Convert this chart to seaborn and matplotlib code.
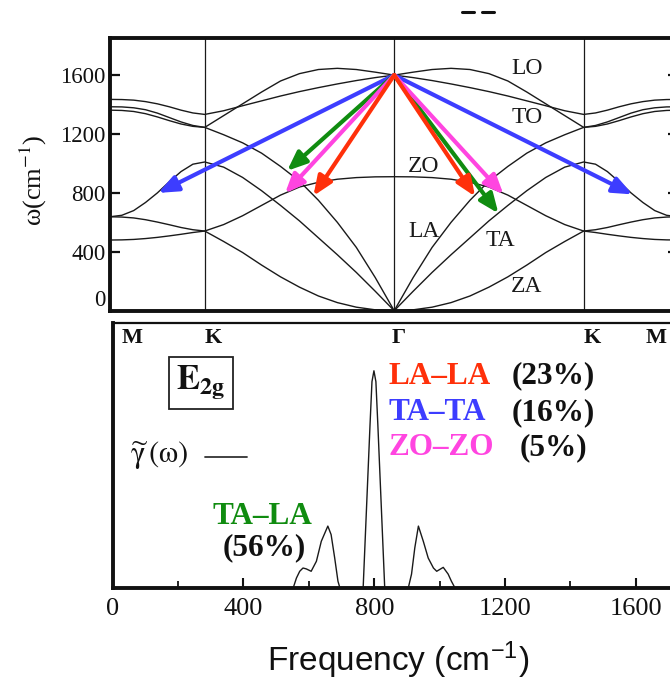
import numpy as np
import pandas as pd
import matplotlib
matplotlib.use("Agg")
import matplotlib.pyplot as plt
import seaborn as sns
from matplotlib.lines import Line2D

# ---------------- phonon dispersion of graphene ----------------
# path coordinate: M(0) - K(1) - Gamma(3) - K(5) - M(6)
k_points = [0, 1, 3, 5, 6]
k_names = ["M", "K", "Γ", "K", "M"]

# wave-vector samples along M -> K -> Gamma (the other half is its mirror image)
k_half = [0, 0.125, 0.25, 0.375, 0.5, 0.625, 0.75, 0.875, 1.0,
          1.2, 1.4, 1.6, 1.8, 2.0, 2.2, 2.4, 2.6, 2.8, 3.0]

w_TO = [1435, 1434, 1430, 1420, 1405, 1385, 1362, 1343, 1333,
        1358, 1392, 1425, 1458, 1488, 1515, 1540, 1563, 1583, 1600]
w_LO = [1385, 1384, 1378, 1365, 1342, 1312, 1282, 1258, 1245,
        1325, 1405, 1485, 1560, 1610, 1638, 1646, 1638, 1620, 1600]
w_LA = [1362, 1360, 1353, 1338, 1316, 1291, 1268, 1252, 1245,
        1195, 1140, 1070, 980, 880, 750, 600, 430, 225, 0]
w_TA = [638, 648, 680, 735, 800, 875, 945, 995, 1010,
        975, 905, 815, 715, 610, 495, 380, 260, 132, 0]
w_ZA = [638, 636, 630, 618, 602, 584, 565, 550, 541,
        470, 395, 310, 230, 160, 100, 55, 24, 6, 0]
w_ZO = [480, 481, 484, 490, 498, 508, 519, 531, 541,
        585, 645, 715, 785, 840, 872, 893, 904, 909, 910]

branch_names = ["TO", "LO", "LA", "TA", "ZA", "ZO"]
branch_values = [w_TO, w_LO, w_LA, w_TA, w_ZA, w_ZO]

# branch labels and their (k, omega) positions
label_names = ["LO", "TO", "ZO", "LA", "TA", "ZA"]
label_k = [4.40, 4.40, 3.31, 3.31, 4.12, 4.40]
label_w = [1648, 1315, 976, 541, 480, 161]

# decay channels of the E2g phonon at Gamma: end points (k, omega) of the arrows
gamma_mode = (3.0, 1600)
channels = ["TA-TA", "TA-LA", "ZO-ZO", "LA-LA"]
channel_colors = ["#3d3dff", "#108c10", "#ff45e0", "#ff300a"]
channel_k = [[0.51, 5.515], [1.87, 4.10], [1.848, 4.153], [2.147, 3.854]]
channel_w = [[800, 790], [950, 661], [797, 790], [780, 776]]

# ---------------- decay spectrum of the E2g mode ----------------
freq = [0, 552, 562, 572, 582, 592, 607, 623, 638, 658, 668, 679, 689, 695,
        766, 773, 780, 787, 793, 799, 805, 811, 818, 825, 832,
        904, 914, 924, 935, 950, 965, 981, 991, 1011, 1026, 1036, 1047, 1730]
gamma_w = [0, 0, 0.046, 0.077, 0.092, 0.088, 0.077, 0.123, 0.215, 0.285, 0.246, 0.138, 0.031, 0,
           0, 0.25, 0.5, 0.75, 0.95, 1.0, 0.95, 0.75, 0.5, 0.25, 0,
           0, 0.064, 0.185, 0.285, 0.215, 0.138, 0.092, 0.077, 0.095, 0.064, 0.031, 0, 0]

freq_ticks = [0, 400, 800, 1200, 1600]
freq_minor = [200, 600, 1000, 1400]
omega_ticks = [0, 400, 800, 1200, 1600]

# ---------------- figure ----------------
sns.set_theme(style="white")
plt.rcParams["font.family"] = ["Liberation Serif", "DejaVu Serif"]
plt.rcParams["mathtext.fontset"] = "stix"

W, H = 670, 682
fig = plt.figure(figsize=(W / 100, H / 100), dpi=100)


def frame(l, t, r, b):
    return [l / W, 1 - b / H, (r - l) / W, (b - t) / H]


ax1 = fig.add_axes(frame(110, 38, 678.4, 311))
ax2 = fig.add_axes(frame(112.7, 323, 678, 588))

# dispersion curves
kh = np.array(k_half)
k_full = np.concatenate([kh, 6 - kh[-2::-1]])
rows = []
for name, w in zip(branch_names, branch_values):
    w = np.array(w, dtype=float)
    w_full = np.concatenate([w, w[-2::-1]])
    rows.append(pd.DataFrame({"k": k_full, "omega": w_full, "branch": name}))
disp = pd.concat(rows, ignore_index=True)

for kp in k_points[1:-1]:
    ax1.axvline(kp, color="#1a1a1a", lw=0.9, zorder=1)

sns.lineplot(data=disp, x="k", y="omega", units="branch", estimator=None,
             sort=False, color="#1a1a1a", lw=1.0, ax=ax1, legend=False, zorder=2)

for name, kx, wy in zip(label_names, label_k, label_w):
    ax1.text(kx, wy, name, fontsize=17, ha="center", va="center", color="#1a1a1a")

for col, ks, ws in zip(channel_colors, channel_k, channel_w):
    for kt, wt in zip(ks, ws):
        ax1.annotate("", xy=(kt, wt), xytext=gamma_mode,
                     arrowprops=dict(arrowstyle="-|>,head_length=0.65,head_width=0.27",
                                     color=col, lw=3.0, mutation_scale=18,
                                     shrinkA=0, shrinkB=0),
                     zorder=5)

ax1.set_xlim(0, 6)
ax1.set_ylim(-2, 1852)
ax1.set_xticks([])
ax1.set_yticks(omega_ticks)
ax1.tick_params(axis="y", direction="in", left=True, right=True, length=7,
                width=1.6, labelsize=16.5, pad=3, colors="#111111")
ax1.yaxis.get_major_ticks()[0].label1.set_va("bottom")
ax1.set_xlabel("")
ax1.set_ylabel("ω(cm$^{-1}$)", fontsize=19, color="#111111")
ax1.yaxis.set_label_coords(-0.108, 0.48)
for side, sp in ax1.spines.items():
    sp.set_visible(True)
    sp.set_color("#111111")
    sp.set_linewidth(2.8)

# spectrum
sns.lineplot(x=freq, y=gamma_w, ax=ax2, color="#1a1a1a", lw=1.0, sort=False, legend=False)
ax2.set_xlim(0, 1729)
ax2.set_ylim(0, 1.22)
ax2.set_yticks([])
ax2.set_xticks(freq_ticks)
ax2.set_xticks(freq_minor, minor=True)
ax2.tick_params(axis="x", which="major", direction="in", bottom=True, length=7,
                width=1.5, labelsize=19, pad=7, colors="#111111")
ax2.tick_params(axis="x", which="minor", direction="in", bottom=True, length=5,
                width=1.3, colors="#111111")
ax2.set_xlabel("")
ax2.set_ylabel("")
for side, sp in ax2.spines.items():
    sp.set_visible(True)
    sp.set_color("#111111")
    sp.set_linewidth(1.6 if side == "top" else 2.8)

# high-symmetry point names under the dispersion panel
name_x = [60, 307, 874, 1468, 1663]
for nm, nx in zip(k_names, name_x):
    ax2.text(nx, 1.151, nm, fontsize=16, fontweight="bold", ha="center", va="center",
             color="#111111")

ax2.text(270, 0.942, r"$\mathbf{E_{2g}}$", fontsize=25, ha="center", va="center",
         color="#111111",
         bbox=dict(boxstyle="square,pad=0.2", fc="white", ec="#222222", lw=1.3))
ax2.text(143, 0.608, r"$\widetilde{\mathrm{\gamma}}\,(\mathrm{\omega})$", fontsize=22,
         ha="center", va="center", color="#111111")
ax2.plot([282, 410], [0.603, 0.603], color="#333333", lw=1.3)

chan_text = ["LA–LA", "TA–TA", "ZO–ZO"]
chan_share = ["(23%)", "(16%)", "(5%)"]
chan_col = ["#ff300a", "#3d3dff", "#ff45e0"]
chan_y = [0.976, 0.806, 0.645]
share_x = [1221, 1221, 1245]
for t, s, c, y, sx in zip(chan_text, chan_share, chan_col, chan_y, share_x):
    ax2.text(845, y, t, fontsize=22.5, fontweight="bold", color=c, ha="left", va="center")
    ax2.text(sx, y, s, fontsize=22.5, fontweight="bold", color="#111111", ha="left",
             va="center")
ax2.text(306, 0.327, "TA–LA", fontsize=22.5, fontweight="bold", color="#108c10",
         ha="left", va="center")
ax2.text(336, 0.184, "(56%)", fontsize=22.5, fontweight="bold", color="#111111",
         ha="left", va="center")

fig.text(398 / W, 1 - 660 / H, r"Frequency (cm$^{\mathregular{-1}}$)", fontsize=24,
         family=["Liberation Sans", "DejaVu Sans"], ha="center", va="center",
         color="#111111")

# fragments of the heading above the panels
for x0, x1 in [(462, 474), (482, 494)]:
    fig.add_artist(Line2D([x0 / W, x1 / W], [1 - 12 / H, 1 - 12 / H], color="#111111", lw=2.2))

fig.savefig("out.png", dpi=100)
